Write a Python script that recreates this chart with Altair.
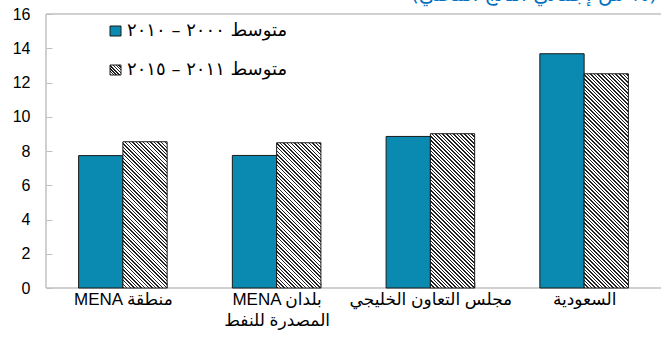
import altair as alt
import pandas as pd

# ---------------- data ----------------
categories = ["MENA منطقة", "MENA بلدان\nالمصدرة للنفط", "مجلس التعاون الخليجي", "السعودية"]
series_keys = ["a", "b"]
series_labels = ["متوسط ٢٠٠٠ – ٢٠١٠", "متوسط ٢٠١١ – ٢٠١٥"]
avg_2000_2010 = [7.73, 7.74, 8.85, 13.68]
avg_2011_2015 = [8.54, 8.48, 9.01, 12.51]
y_ticks = [0, 2, 4, 6, 8, 10, 12, 14, 16]
title_text = "\u202b(% من إجمالي الناتج المحلي)\u202c"

# ---------------- style ----------------
W, H = 615, 274
TEAL = "#0A8AB0"
GRAY = "#C0C0C0"
INK = "#1a1a1a"
FONT = "Liberation Sans, DejaVu Sans, sans-serif"
AR_FONT = "DejaVu Sans, sans-serif"
P_IN = 0.424
YMAX = 16


def hatch(w, h, period=3.6, frac=0.42, dark="#222222", light="#ffffff"):
    lam = (w + h) / (w * w + h * h)
    n = (w + h) / period
    stops = []
    k = 0
    while k < n:
        a = k / n
        b = min((k + frac) / n, 1.0)
        c = min((k + 1) / n, 1.0)
        stops += [
            {"offset": round(a, 5), "color": dark},
            {"offset": round(b, 5), "color": dark},
            {"offset": round(b, 5), "color": light},
            {"offset": round(c, 5), "color": light},
        ]
        k += 1
    return {"gradient": "linear", "x1": 0, "y1": 1,
            "x2": lam * w, "y2": 1 - lam * h, "stops": stops}


rows = []
for i, c in enumerate(categories):
    rows.append({"cat": c, "series": "a", "value": avg_2000_2010[i], "idx": i})
    rows.append({"cat": c, "series": "b", "value": avg_2011_2015[i], "idx": i})
df = pd.DataFrame(rows)
one = pd.DataFrame({"k": [0]})

x_scale = alt.Scale(domain=categories, paddingInner=P_IN, paddingOuter=P_IN / 2)
xo_scale = alt.Scale(domain=series_keys, paddingInner=0, paddingOuter=0)
y_scale = alt.Scale(domain=[0, YMAX], nice=False, zero=True)

x_axis = alt.Axis(title=None, labelAngle=0, tickBand="extent", ticks=True, tickSize=6,
                  tickColor=GRAY, tickWidth=1, offset=-6, domain=False, labelPadding=3,
                  labelFont=FONT, labelFontSize=17, labelColor="#000", labelLineHeight=21,
                  labelExpr="split(datum.label, '\\n')", labelBaseline="top",
                  labelOverlap=False)
y_axis = alt.Axis(title=None, values=y_ticks, ticks=True, tickSize=6, tickColor=GRAY,
                  tickWidth=1, offset=-6, domain=False, grid=False, labelPadding=16,
                  labelFont=FONT, labelFontSize=16, labelColor="#000", labelFlush=False)

enc = dict(
    x=alt.X("cat:N", scale=x_scale, axis=x_axis, sort=categories),
    xOffset=alt.XOffset("series:N", scale=xo_scale),
    y=alt.Y("value:Q", scale=y_scale, axis=y_axis),
)

# frame lines
top_line = alt.Chart(one).mark_rule(color=GRAY, strokeWidth=1.5).encode(
    x=alt.value(0), x2=alt.value(W), y=alt.value(0))
left_line = alt.Chart(one).mark_rule(color=GRAY, strokeWidth=1.5).encode(
    x=alt.value(0), y=alt.value(0), y2=alt.value(H))
bottom_line = alt.Chart(one).mark_rule(color=GRAY, strokeWidth=1.5).encode(
    x=alt.value(0), x2=alt.value(W), y=alt.value(H))

teal = alt.Chart(df).mark_bar(fill=TEAL, stroke=INK, strokeWidth=1).encode(**enc).transform_filter(
    "datum.series == 'a'")

bar_w = (W / len(categories)) * (1 - P_IN) / 2
hatched = []
for i, v in enumerate(avg_2011_2015):
    hpx = v / YMAX * H
    hatched.append(
        alt.Chart(df).mark_bar(fill=hatch(bar_w, hpx), stroke=INK, strokeWidth=1)
        .encode(**enc)
        .transform_filter(f"datum.series == 'b' && datum.idx == {i}")
    )

leg_df = pd.DataFrame({"label": series_labels, "k": series_keys})
sq1 = alt.Chart(one).mark_rect(fill=TEAL, stroke=INK, strokeWidth=1).encode(
    x=alt.value(64), x2=alt.value(75), y=alt.value(12), y2=alt.value(22))
sq2 = alt.Chart(one).mark_rect(fill=hatch(11, 10, period=3.0), stroke=INK, strokeWidth=1).encode(
    x=alt.value(64), x2=alt.value(75), y=alt.value(51), y2=alt.value(61))
t1 = alt.Chart(leg_df).transform_filter("datum.k == 'a'").mark_text(
    align="left", baseline="middle", font=AR_FONT, fontSize=18, color="#000").encode(
    x=alt.value(81), y=alt.value(17), text="label:N")
t2 = alt.Chart(leg_df).transform_filter("datum.k == 'b'").mark_text(
    align="left", baseline="middle", font=AR_FONT, fontSize=18, color="#000").encode(
    x=alt.value(81), y=alt.value(56), text="label:N")

title = alt.Chart(one).mark_text(text=title_text, align="right", baseline="alphabetic",
                                 font=AR_FONT, fontSize=20, color="#0070C0").encode(
    x=alt.value(611), y=alt.value(-13))

chart = alt.layer(top_line, left_line, bottom_line, teal, *hatched, sq1, sq2, t1, t2, title).properties(
    width=W, height=H,
    padding={"left": 46, "top": 14, "right": 0, "bottom": 49},
    autosize=alt.AutoSizeParams(type="none"),
    background="white",
).configure_view(stroke=None)

chart.save("out.html", embed_options={"renderer": "svg", "actions": False})
